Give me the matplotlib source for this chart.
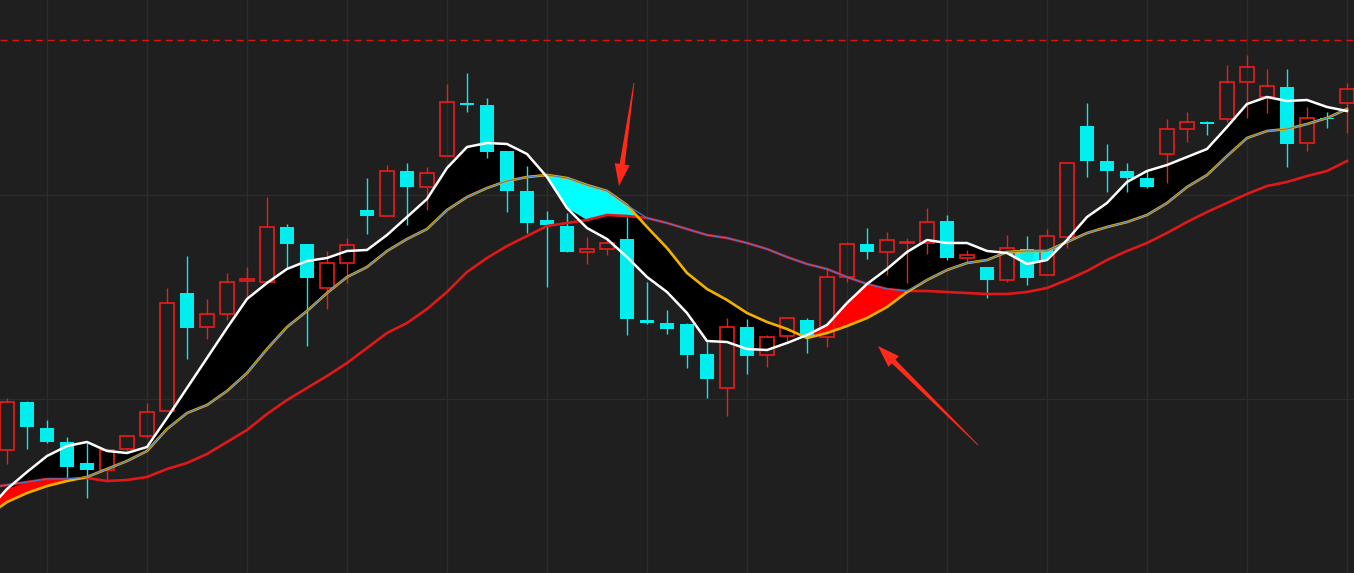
import matplotlib

matplotlib.use("Agg")
import matplotlib.pyplot as plt
import numpy as np

# candles (price units, arbitrary scale)
opens = [123, 171, 145, 131, 110, 103, 124, 137, 162, 280, 246, 259, 292, 291, 346, 329, 285, 310,
         363, 357, 402, 386, 417, 470, 468, 422, 382, 353, 347, 321, 324, 334, 253, 250, 249, 219,
         185, 246, 218, 237, 253, 236, 296, 329, 321, 330, 330, 352, 315, 306, 293, 324, 298, 336,
         447, 412, 402, 395, 419, 444, 451, 454, 491, 476, 486, 430, 455, 470]
closes = [171, 146, 131, 106, 103, 123, 137, 161, 270, 245, 259, 291, 294, 346, 329, 295, 310, 328,
          357, 402, 386, 400, 471, 468, 421, 382, 350, 348, 321, 324, 330, 254, 250, 244, 218, 194,
          246, 217, 236, 255, 236, 296, 329, 321, 333, 331, 351, 315, 318, 293, 325, 295, 337, 410,
          412, 402, 395, 386, 444, 451, 449, 491, 506, 487, 429, 455, 454, 484]
highs = [175, 172, 153, 136, 130, 125, 137, 170, 285, 317, 274, 300, 306, 376, 349, 329, 322, 335,
         395, 408, 410, 406, 489, 500, 475, 422, 407, 362, 360, 336, 335, 356, 291, 263, 250, 231,
         255, 254, 238, 255, 255, 305, 331, 345, 341, 335, 365, 358, 323, 306, 338, 337, 344, 411,
         470, 429, 410, 402, 454, 461, 452, 508, 518, 504, 504, 466, 461, 490]
lows = [109, 124, 130, 95, 75, 93, 120, 135, 162, 214, 234, 253, 276, 291, 305, 227, 264, 290,
        339, 357, 348, 363, 417, 461, 415, 361, 340, 286, 321, 309, 318, 238, 249, 239, 205, 175,
        157, 199, 206, 232, 220, 226, 291, 314, 298, 290, 319, 313, 310, 275, 291, 288, 298, 325,
        396, 381, 381, 385, 390, 431, 438, 451, 455, 460, 406, 422, 445, 440]

# moving averages, first point is the bar just left of the window
ma_fast = [62, 84, 101, 117, 127, 131, 122, 120, 126, 155, 185, 215, 245, 274, 290, 304, 312, 315,
           322, 323, 338, 356, 374, 405, 426, 430, 429, 419, 396, 365, 345, 334, 316, 296, 281, 260,
           232, 231, 224, 223, 230, 238, 248, 270, 289, 304, 321, 333, 330, 330, 322, 320, 309, 313,
           333, 356, 370, 391, 402, 408, 416, 424, 446, 469, 476, 472, 473, 466, 462]
ma_mid = [57, 71, 80, 87, 92, 96, 104, 112, 122, 144, 160, 168, 182, 200, 224, 246, 262, 280,
          296, 306, 322, 334, 344, 363, 376, 385, 392, 396, 398, 395, 388, 382, 368, 346, 325, 300,
          284, 273, 260, 251, 244, 235, 240, 247, 255, 266, 281, 293, 303, 310, 313, 321, 322, 322,
          331, 340, 346, 351, 358, 370, 386, 398, 417, 435, 442, 444, 449, 455, 464]
ma_slow = [85, 88, 91, 94, 94, 95, 92, 93, 96, 104, 110, 119, 131, 143, 159, 173, 185, 197,
           210, 225, 240, 250, 264, 281, 301, 315, 327, 337, 347, 350, 353, 358, 357, 355, 350, 344,
           338, 335, 330, 324, 316, 309, 304, 296, 289, 284, 282, 282, 281, 280, 279, 279, 281, 285,
           293, 302, 313, 322, 330, 340, 351, 361, 370, 379, 387, 391, 397, 402, 412]

ref_level = 533

# hand-drawn markers: (tail, tip) in data coords
arrows = [((31.35, 490), (30.6, 387)), ((48.55, 128), (43.55, 227))]

BG = "#1f1f1f"
GRID = "#2c2c2c"
UP = "#ee1c1c"
DOWN = "#00eeee"
X_SCALE = 20.0  # px per bar, keeps the arrow shapes undistorted


def tapered_arrow(ax, tail, tip, color="#ff2a1a"):
    t = np.array([tail[0] * X_SCALE, tail[1]])
    p = np.array([tip[0] * X_SCALE, tip[1]])
    d = (p - t) / np.linalg.norm(p - t)
    n = np.array([-d[1], d[0]])
    base = p - d * 22
    pts = np.array([t + n * 0.4, base + n * 2.6, base + n * 7.5, p,
                    base - n * 7.5, base - n * 2.6, t - n * 0.4])
    ax.fill(pts[:, 0] / X_SCALE, pts[:, 1], color=color, lw=0, zorder=7, clip_on=False)


o = np.array(opens, float)
c = np.array(closes, float)
h = np.array(highs, float)
lo = np.array(lows, float)
xc = np.arange(len(o))

fast = np.array(ma_fast, float)
mid = np.array(ma_mid, float)
slow = np.array(ma_slow, float)
xl = np.arange(-1, len(fast) - 1)
upper_band = np.maximum(mid, slow)

fig = plt.figure(figsize=(13.54, 5.73), dpi=100, facecolor=BG)
ax = fig.add_axes([0, 0, 1, 1], facecolor=BG)
ax.set_xlim(-0.35, 67.35)
ax.set_ylim(0, 573)
ax.set_xticks(np.arange(2, 68, 5))
ax.set_yticks([174, 378])
ax.grid(True, color=GRID, lw=1)
ax.tick_params(length=0, labelbottom=False, labelleft=False)
for s in ax.spines.values():
    s.set_visible(False)
ax.set_axisbelow(True)

# cloud fills
ax.fill_between(xl, fast, mid, color="black", lw=0, zorder=1)
hi_cap = np.maximum(fast, slow)
ax.fill_between(xl, mid, hi_cap, where=mid > hi_cap, interpolate=True,
                color="#00ffff", lw=0, zorder=1.1)
lo_cap = np.minimum(fast, slow)
ax.fill_between(xl, mid, lo_cap, where=mid < lo_cap, interpolate=True,
                color="#ff0000", lw=0, zorder=1.1)

# candles
up = c >= o
w = 0.72
ax.vlines(xc[~up], lo[~up], h[~up], color=DOWN, lw=1, zorder=2)
ax.bar(xc[~up], c[~up] - o[~up], bottom=o[~up], width=w, color=DOWN, lw=0, zorder=3)
ax.vlines(xc[up], c[up], h[up], color=UP, lw=1, zorder=2)
ax.vlines(xc[up], lo[up], o[up], color=UP, lw=1, zorder=2)
ax.bar(xc[up], np.maximum(c[up] - o[up], 1), bottom=o[up], width=w,
       facecolor="none", edgecolor=UP, lw=1.2, zorder=3)

# moving averages
ax.plot(xl, slow, color="#e01818", lw=1.9, zorder=4)
ax.plot(xl, mid, color="#f2b100", lw=1.9, zorder=4)
ax.plot(xl, upper_band, color="#3c7fdc", lw=0.8, zorder=5)
ax.plot(xl, fast, color="white", lw=1.8, zorder=6)

ax.axhline(ref_level, color="#e01010", lw=1, ls=(0, (5, 3.5)), zorder=4)

for tail, tip in arrows:
    tapered_arrow(ax, tail, tip)

fig.savefig("out.png", dpi=100, facecolor=BG)
